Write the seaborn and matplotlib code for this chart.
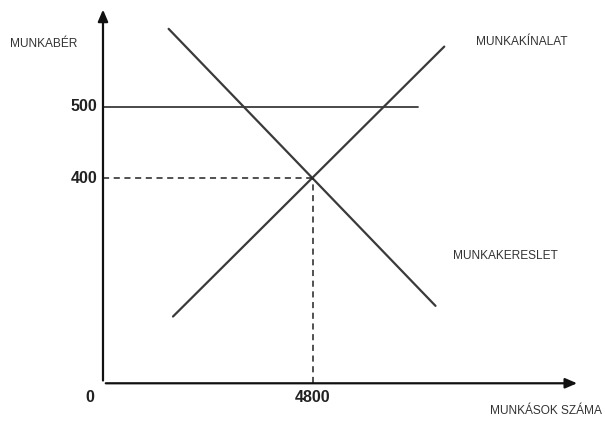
import matplotlib
matplotlib.use("Agg")
import matplotlib.pyplot as plt
import pandas as pd
import seaborn as sns

# schematic labour market: wage vs. number of workers
demand_x = [1500, 7600]
demand_y = [610, 220]
supply_x = [1600, 7800]
supply_y = [205, 585]
wage_floor_x = [0, 7200]
wage_floor_y = [500, 500]

eq_x = 4800
eq_y = 400
y_ticks = [500, 400]
x_ticks = [4800]

sns.set_style("white")
plt.rcParams["font.family"] = ["Liberation Sans", "DejaVu Sans"]

fig = plt.figure(figsize=(6.05, 4.21), dpi=100)
ax = fig.add_axes([0, 0, 1, 1])
ax.set_xlim(-2354, 11474)
ax.set_ylim(57.9, 650.6)
ax.axis("off")

line_col = "#3a3a3a"
df_d = pd.DataFrame({"x": demand_x, "y": demand_y})
df_s = pd.DataFrame({"x": supply_x, "y": supply_y})
df_w = pd.DataFrame({"x": wage_floor_x, "y": wage_floor_y})
sns.lineplot(data=df_d, x="x", y="y", ax=ax, color=line_col, lw=1.6)
sns.lineplot(data=df_s, x="x", y="y", ax=ax, color=line_col, lw=1.6)
sns.lineplot(data=df_w, x="x", y="y", ax=ax, color=line_col, lw=1.3)

# dashed guides to the equilibrium
y0 = 111
ax.plot([0, eq_x], [eq_y, eq_y], ls=(0, (4, 3)), color="#222", lw=1.1)
ax.plot([eq_x, eq_x], [y0, eq_y], ls=(0, (4, 3)), color="#222", lw=1.1)

# axes with arrows
ax.annotate("", xy=(0, 641), xytext=(0, y0),
            arrowprops=dict(arrowstyle="-|>,head_length=0.7,head_width=0.3", color="#111", lw=1.6))
ax.annotate("", xy=(10900, y0), xytext=(0, y0),
            arrowprops=dict(arrowstyle="-|>,head_length=0.7,head_width=0.3", color="#111", lw=1.6))

# tick labels
for v in y_ticks:
    ax.text(-130, v, str(v), ha="right", va="center", fontsize=11.5, fontweight="bold", color="#222")
ax.text(-300, y0 - 20, "0", ha="center", va="center", fontsize=11.5, fontweight="bold", color="#222")
for v in x_ticks:
    ax.text(v, y0 - 20, str(v), ha="center", va="center", fontsize=11.5, fontweight="bold", color="#222")

# curve / axis names
small = dict(fontsize=8.6, color="#333")
ax.text(-2130, 588, "MUNKABÉR", ha="left", va="center", **small)
ax.text(8530, 591, "MUNKAKÍNALAT", ha="left", va="center", **small)
ax.text(8000, 290, "MUNKAKERESLET", ha="left", va="center", **small)
ax.text(8840, 72, "MUNKÁSOK SZÁMA", ha="left", va="center", **small)

fig.savefig("out.png", dpi=100, facecolor="white")
